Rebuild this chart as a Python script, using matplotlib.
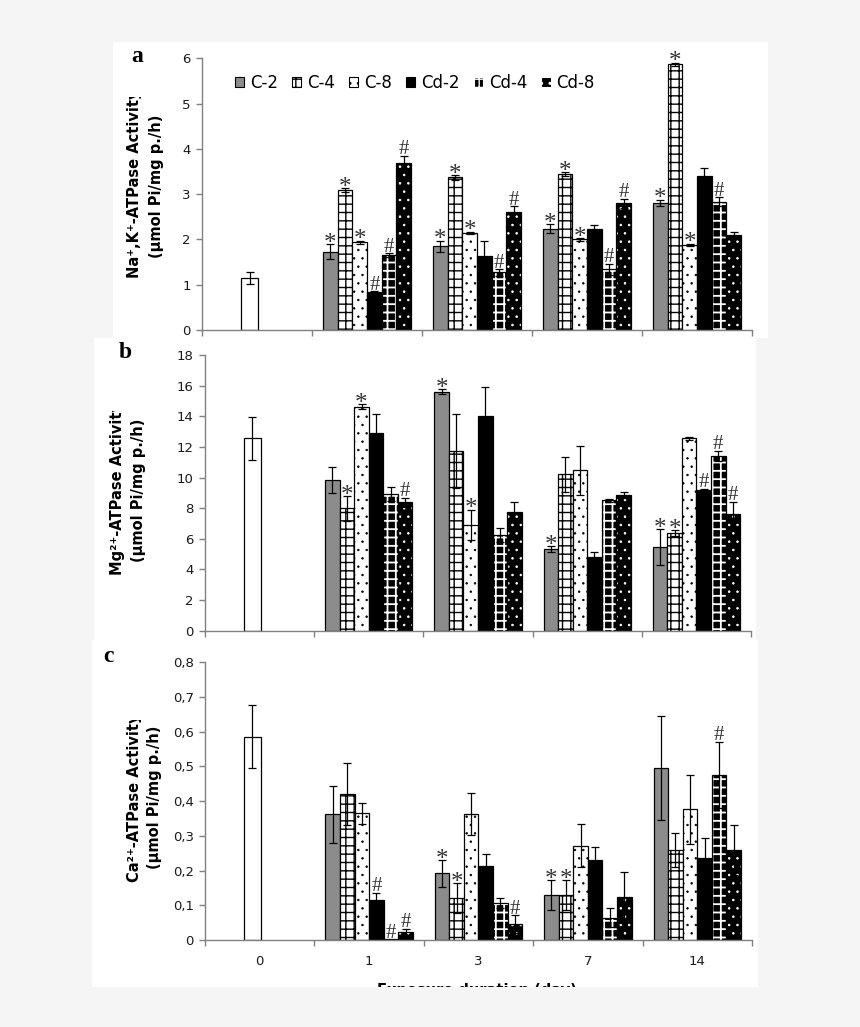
import matplotlib
matplotlib.use('Agg')
import matplotlib.pyplot as plt
from matplotlib.patches import Rectangle, Patch
from matplotlib.transforms import Bbox
from matplotlib.ticker import FuncFormatter, FixedLocator, NullFormatter

W, H = 860, 1027

# ---------------- data ----------------
days = ['0', '1', '3', '7', '14']
series = ['C-2', 'C-4', 'C-8', 'Cd-2', 'Cd-4', 'Cd-8']

# (a) Na+,K+-ATPase
na_ctrl = 1.15
na_ctrl_err = 0.13
na_vals = [[1.73, 3.09, 1.94, 0.83, 1.66, 3.69],
           [1.85, 3.37, 2.15, 1.64, 1.27, 2.61],
           [2.24, 3.44, 2.00, 2.24, 1.34, 2.80],
           [2.81, 5.87, 1.88, 3.39, 2.83, 2.10]]
na_errs = [[0.16, 0.04, 0.03, 0.03, 0.04, 0.16],
           [0.12, 0.05, 0.02, 0.32, 0.07, 0.13],
           [0.10, 0.05, 0.03, 0.07, 0.12, 0.10],
           [0.07, 0.03, 0.03, 0.18, 0.10, 0.06]]
na_marks = [['*', '*', '*', '#', '#', '#'],
            ['*', '*', '*', '', '#', '#'],
            ['*', '*', '*', '', '#', '#'],
            ['*', '*', '*', '', '#', '']]

# (b) Mg2+-ATPase
mg_ctrl = 12.55
mg_ctrl_err = 1.42
mg_vals = [[9.85, 7.99, 14.62, 12.88, 8.92, 8.38],
           [15.60, 11.73, 6.90, 14.02, 6.25, 7.77],
           [5.33, 10.21, 10.49, 4.79, 8.53, 8.86],
           [5.44, 6.36, 12.56, 9.18, 11.40, 7.62]]
mg_errs = [[0.85, 0.80, 0.15, 1.25, 0.48, 0.30],
           [0.15, 2.40, 1.00, 1.87, 0.48, 0.60],
           [0.20, 1.15, 1.60, 0.35, 0.10, 0.20],
           [1.17, 0.20, 0.10, 0.10, 0.35, 0.80]]
mg_marks = [['', '*', '*', '', '', '#'],
            ['*', '', '*', '', '', ''],
            ['*', '', '', '', '', ''],
            ['*', '*', '', '#', '#', '#']]

# (c) Ca2+-ATPase
ca_ctrl = 0.586
ca_ctrl_err = 0.09
ca_vals = [[0.362, 0.420, 0.365, 0.115, 0.003, 0.023],
           [0.192, 0.120, 0.363, 0.213, 0.106, 0.046],
           [0.130, 0.130, 0.272, 0.230, 0.064, 0.123],
           [0.495, 0.259, 0.376, 0.235, 0.475, 0.259]]
ca_errs = [[0.082, 0.090, 0.030, 0.021, 0.000, 0.010],
           [0.038, 0.043, 0.060, 0.034, 0.014, 0.026],
           [0.043, 0.043, 0.062, 0.037, 0.027, 0.073],
           [0.150, 0.050, 0.099, 0.060, 0.096, 0.072]]
ca_marks = [['', '', '', '#', '#', '#'],
            ['*', '*', '', '', '', '#'],
            ['*', '*', '', '', '', ''],
            ['', '', '', '', '#', '']]

# ---------------- styles ----------------
BG = '#f5f5f5'
styles = [dict(face='#8c8c8c', hatch=None, hcol=None, hlw=1.0),
          dict(face='white', hatch='++', hcol='black', hlw=1.0),
          dict(face='white', hatch='..', hcol='black', hlw=0.5),
          dict(face='black', hatch=None, hcol=None, hlw=1.0),
          dict(face='black', hatch='++', hcol='white', hlw=1.3),
          dict(face='black', hatch='..', hcol='white', hlw=0.6)]

plt.rcParams['hatch.linewidth'] = 1.0


def fx(x):
    return x / W


def fy(y):
    return 1 - y / H


fig = plt.figure(figsize=(W / 100, H / 100), dpi=100)
fig.patch.set_facecolor(BG)

# white panels
for (x0, y0, x1, y1) in [(113, 42, 768, 338), (94, 338, 756, 640), (92, 640, 758, 987)]:
    fig.patches.append(Rectangle((fx(x0), fy(y1)), fx(x1 - x0), (y1 - y0) / H,
                                 transform=fig.transFigure, facecolor='white',
                                 edgecolor='none', zorder=-5))

axes_px = [(202, 752, 58.3, 330.0), (205, 751, 355.0, 630.7), (205, 752, 662.3, 940.0)]
axs = []
for (l, r, t, b) in axes_px:
    ax = fig.add_axes([fx(l), fy(b), fx(r - l), (b - t) / H])
    ax.patch.set_alpha(0)
    axs.append(ax)

bw = 0.8 / 6
ctrl_w = 0.15


def set_hlw(container, lw):
    for patch in container:
        if hasattr(patch, 'set_hatch_linewidth'):
            patch.set_hatch_linewidth(lw)


def draw_bar(ax, x, v, w, st):
    if st['hatch'] and st['hcol'] == 'white':
        p = ax.bar(x, v, w, facecolor=st['face'], edgecolor='white', hatch=st['hatch'],
                   linewidth=0, zorder=2)
        set_hlw(p, st['hlw'])
        ax.bar(x, v, w, fill=False, edgecolor='black', linewidth=0.9, zorder=2.1)
    elif st['hatch']:
        p = ax.bar(x, v, w, facecolor=st['face'], edgecolor='black', hatch=st['hatch'],
                   linewidth=0.9, zorder=2)
        set_hlw(p, st['hlw'])
    else:
        ax.bar(x, v, w, facecolor=st['face'], edgecolor='black', linewidth=0.9, zorder=2)


def mark(ax, x, top, m):
    if not m:
        return
    dy = -4.0 if m == '*' else 1.0
    fs = 18 if m == '*' else 15
    ax.annotate(m, (x, top), xytext=(0, dy), textcoords='offset points',
                ha='center', va='baseline', fontsize=fs, family='Liberation Serif',
                color='#333333', zorder=4)


panels = [(na_ctrl, na_ctrl_err, na_vals, na_errs, na_marks, 6, 1),
          (mg_ctrl, mg_ctrl_err, mg_vals, mg_errs, mg_marks, 18, 2),
          (ca_ctrl, ca_ctrl_err, ca_vals, ca_errs, ca_marks, 0.8, 0.1)]

for k, (ax, (cv, ce, vals, errs, marks, ymax, ystep)) in enumerate(zip(axs, panels)):
    # control bar
    xc = 0.5 + (2 - 2.5) * bw
    ax.bar(xc, cv, ctrl_w, facecolor='white', edgecolor='black', linewidth=0.9, zorder=2)
    ax.errorbar(xc, cv, yerr=ce, fmt='none', ecolor='black', elinewidth=0.9,
                capsize=3, capthick=0.9, zorder=3)
    for g in range(4):
        c = g + 1.5
        for j in range(6):
            x = c + (j - 2.5) * bw
            v = vals[g][j]
            e = errs[g][j]
            draw_bar(ax, x, v, bw, styles[j])
            if e > 0:
                ax.errorbar(x, v, yerr=e, fmt='none', ecolor='black', elinewidth=0.9,
                            capsize=3, capthick=0.9, zorder=3)
            mark(ax, x, v + e, marks[g][j])

    ax.set_xlim(0, 5)
    ax.set_ylim(0, ymax)
    nt = int(round(ymax / ystep))
    ax.yaxis.set_major_locator(FixedLocator([i * ystep for i in range(nt + 1)]))
    if k == 2:
        ax.yaxis.set_major_formatter(FuncFormatter(
            lambda v, p: '0' if abs(v) < 1e-9 else ('%.1f' % v).replace('.', ',')))
    ax.xaxis.set_major_locator(FixedLocator([0, 1, 2, 3, 4, 5]))
    ax.xaxis.set_major_formatter(NullFormatter())
    ax.xaxis.set_minor_locator(FixedLocator([0.5, 1.5, 2.5, 3.5, 4.5]))
    if k == 2:
        ax.set_xticklabels(days, minor=True)
    else:
        ax.xaxis.set_minor_formatter(NullFormatter())
    for s in ['top', 'right']:
        ax.spines[s].set_visible(False)
    for s in ['left', 'bottom']:
        ax.spines[s].set_color('#808080')
        ax.spines[s].set_linewidth(1.0)
    ax.tick_params(axis='both', which='major', direction='out', length=4, width=1,
                   color='#808080', labelsize=9.5, labelcolor='#1a1a1a', pad=4)
    ax.tick_params(axis='x', which='minor', length=0, labelsize=9.5,
                   labelcolor='#1a1a1a', pad=11)

# legend
handles = []
for st in styles:
    hp = Patch(facecolor=st['face'],
               edgecolor=('white' if st['hcol'] == 'white' else 'black'),
               hatch=st['hatch'], linewidth=0.8)
    handles.append(hp)
axs[0].legend(handles, series, loc='center left', bbox_to_anchor=(0.06, 0.909),
              ncol=6, frameon=False, fontsize=12, handlelength=0.55, handleheight=0.55,
              handletextpad=0.35, columnspacing=0.85, borderaxespad=0, borderpad=0)

# y labels (first line clipped like the original text box)
ylab1 = ['Na⁺,K⁺-ATPase Activity', 'Mg²⁺-ATPase Activity', 'Ca²⁺-ATPase Activity']
ylab2 = '(µmol Pi/mg p./h)'
lab_pos = [(135, 278, 97, 156, 186.5), (117, 575, 411, 138, 490), (135, 882, 720, 155, 797)]
for txt, (x1, ybot, ytop, x2, yc2) in zip(ylab1, lab_pos):
    t = fig.text(fx(x1), fy(ybot), txt, rotation=90, rotation_mode='anchor',
                 ha='left', va='center', fontsize=10.5, fontweight='bold', color='black')
    t.set_clip_box(Bbox.from_extents(0, 0, W, H - ytop))
    t.set_clip_on(True)
    fig.text(fx(x2), fy(yc2), ylab2, rotation=90, ha='center', va='center',
             fontsize=10.5, fontweight='bold', color='black')

# panel letters
for lt, (x, y) in zip(['a', 'b', 'c'], [(137, 56), (125, 352), (108, 657)]):
    fig.text(fx(x), fy(y), lt, ha='center', va='center', fontsize=17,
             fontweight='bold', family='Liberation Serif')

# x label (partly hidden by the page background, as in the original)
fig.text(fx(477), fy(982.5), 'Exposure duration (day)', ha='center', va='top',
         fontsize=10.5, fontweight='bold', zorder=3)
fig.patches.append(Rectangle((0, 0), 1, fy(987), transform=fig.transFigure,
                             facecolor=BG, edgecolor='none', zorder=10))

fig.savefig('out.png', dpi=100, facecolor=BG)
